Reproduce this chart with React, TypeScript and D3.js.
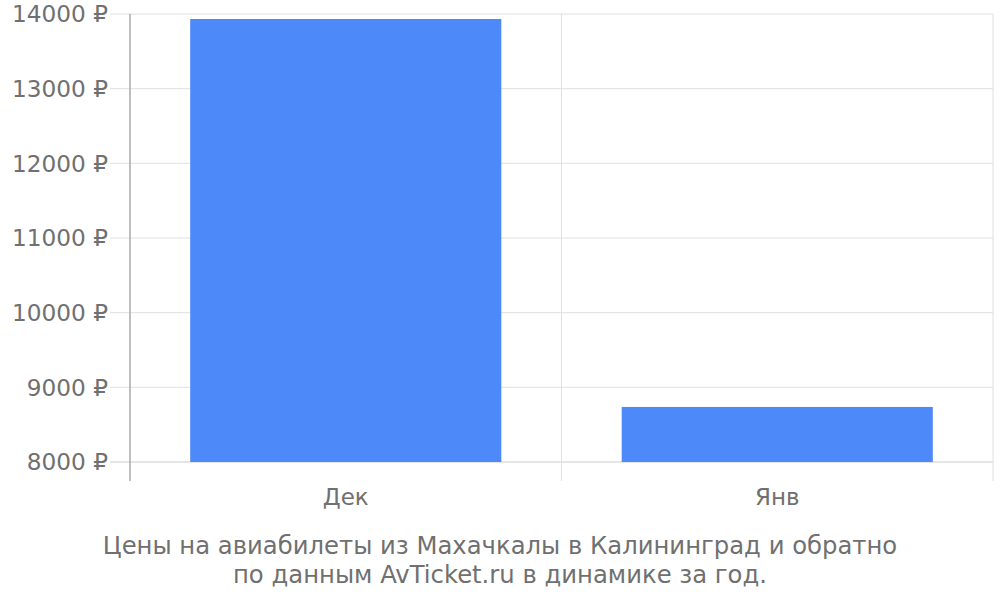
import { useMemo } from "react";
import { scaleBand, scaleLinear } from "d3";

const W = 1000;
const H = 600;
const M = { top: 14, right: 7, bottom: 138, left: 130 };

const months = ["Дек", "Янв"];
const prices = [13933, 8737];
const yTicks = [8000, 9000, 10000, 11000, 12000, 13000, 14000];
const titleLines = [
  "Цены на авиабилеты из Махачкалы в Калининград и обратно",
  "по данным AvTicket.ru в динамике за год.",
];

const FONT = "'DejaVu Sans', sans-serif";
const TEXT = "#707070";

export default function App() {
  const x = useMemo(
    () => scaleBand<string>().domain(months).range([M.left, W - M.right]).paddingInner(0.279).paddingOuter(0.1395),
    []
  );
  const y = useMemo(() => scaleLinear().domain([8000, 14000]).range([H - M.bottom, M.top]), []);

  const bottom = H - M.bottom;
  const step = x.step();
  // band edges (vertical grid lines between categories)
  const edges = months.map((m) => (x(m) ?? 0) - (step - x.bandwidth()) / 2).concat(W - M.right);

  return (
    <svg width={W} height={H} style={{ position: "absolute", left: 0, top: 0, fontFamily: FONT }}>
      {yTicks.map((t) => (
        <g key={t}>
          <line x1={110} x2={W - M.right} y1={y(t)} y2={y(t)} stroke={t === 8000 ? "#cccccc" : "#e0e0e0"} strokeWidth={1} />
          <text x={108} y={y(t)} dy="0.36em" textAnchor="end" fontSize={23.2} fill={TEXT}>
            {t} ₽
          </text>
        </g>
      ))}

      {edges.slice(1).map((e, i) => (
        <line key={i} x1={e} x2={e} y1={M.top} y2={bottom + 19} stroke="#e0e0e0" strokeWidth={1} />
      ))}

      {months.map((m, i) => (
        <rect key={m} x={x(m)} y={y(prices[i])} width={x.bandwidth()} height={bottom - y(prices[i])} fill="#4d89f9" />
      ))}

      <line x1={M.left} x2={M.left} y1={M.top} y2={bottom + 19} stroke="#aaaaaa" strokeWidth={1.5} />

      {months.map((m) => (
        <text key={m} x={(x(m) ?? 0) + x.bandwidth() / 2} y={505} textAnchor="middle" fontSize={23} fill={TEXT}>
          {m}
        </text>
      ))}

      {titleLines.map((l, i) => (
        <text key={i} x={500} y={554 + i * 29} textAnchor="middle" fontSize={24.3} fill={TEXT}>
          {l}
        </text>
      ))}
    </svg>
  );
}
